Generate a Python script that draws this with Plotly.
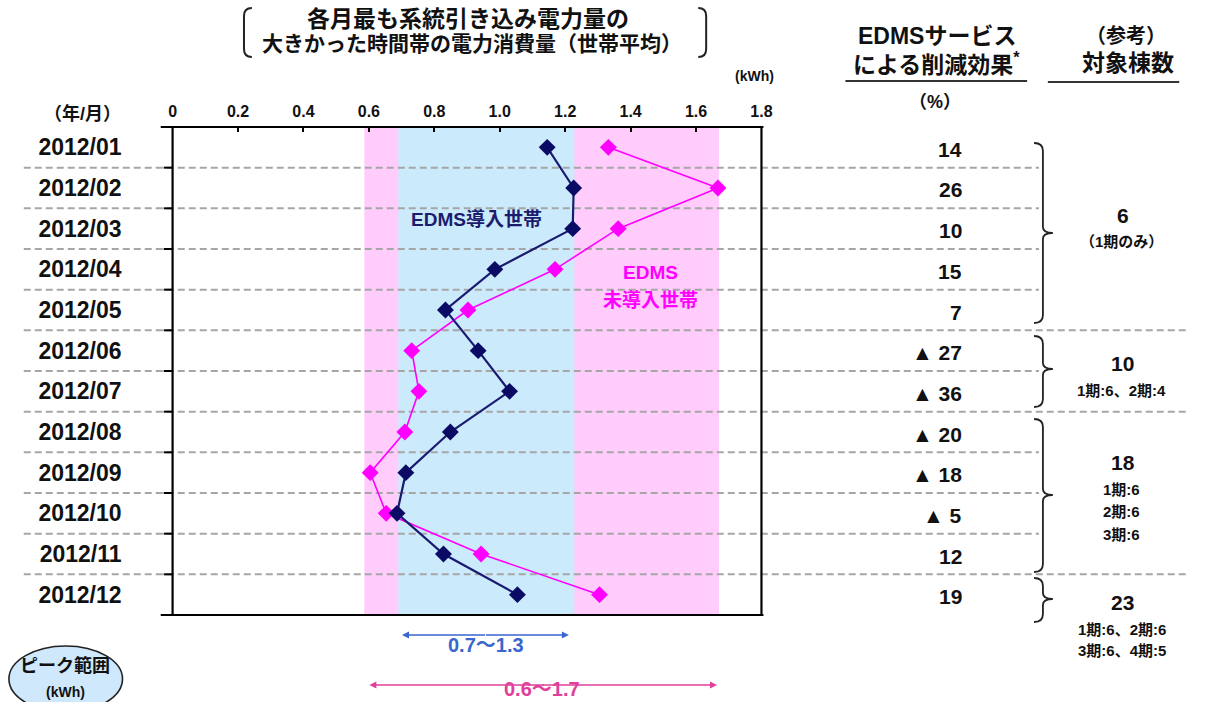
import plotly.graph_objects as go

# ---------------- data ----------------
months = ["2012/01", "2012/02", "2012/03", "2012/04", "2012/05", "2012/06",
          "2012/07", "2012/08", "2012/09", "2012/10", "2012/11", "2012/12"]
edms = [1.145, 1.226, 1.223, 0.985, 0.834, 0.934, 1.030, 0.849, 0.713, 0.686, 0.828, 1.054]
non_edms = [1.332, 1.667, 1.362, 1.169, 0.903, 0.731, 0.753, 0.710, 0.604, 0.653, 0.943, 1.305]
reduction = [14, 26, 10, 15, 7, -27, -36, -20, -18, -5, 12, 19]
x_ticks = [0, 0.2, 0.4, 0.6, 0.8, 1.0, 1.2, 1.4, 1.6, 1.8]
x_ticktext = ["0", "0.2", "0.4", "0.6", "0.8", "1.0", "1.2", "1.4", "1.6", "1.8"]
band_blue = [0.69, 1.228]
band_pink = [0.586, 1.67]
range_blue_label = "0.7〜1.3"
range_pink_label = "0.6〜1.7"
group_first = [0, 5, 7, 11]
group_last = [4, 6, 10, 11]
group_counts = ["6", "10", "18", "23"]
group_notes = [["（1期のみ）"], ["1期:6、2期:4"], ["1期:6", "2期:6", "3期:6"],
               ["1期:6、2期:6", "3期:6、4期:5"]]

W, H = 1207, 702
PL, PR, PT, PB = 170.7, 767.0, 127.0, 615.0


def px(x):
    return x / W


def py(y):
    return 1 - y / H


JP = "Liberation Sans, Noto Sans CJK JP"
NAVY = "#0b0b66"
MAG = "#ff00ff"

fig = go.Figure()
fig.add_trace(go.Scatter(x=non_edms, y=months, mode="lines+markers",
                         line=dict(color=MAG, width=1.6),
                         marker=dict(symbol="diamond", size=13, color=MAG),
                         cliponaxis=False, showlegend=False))
fig.add_trace(go.Scatter(x=edms, y=months, mode="lines+markers",
                         line=dict(color="#1a1a70", width=2.2),
                         marker=dict(symbol="diamond", size=13, color=NAVY),
                         cliponaxis=False, showlegend=False))

shapes = []
# bands
shapes.append(dict(type="rect", xref="x", yref="paper", x0=band_pink[0], x1=band_pink[1],
                   y0=py(PB), y1=py(PT), fillcolor="#ffccfb", line=dict(width=0), layer="below"))
shapes.append(dict(type="rect", xref="x", yref="paper", x0=band_blue[0], x1=band_blue[1],
                   y0=py(PB), y1=py(PT), fillcolor="#cbeafc", line=dict(width=0), layer="below"))
# dashed row separators
long_rows = set(group_last[:-1])
for i in range(len(months) - 1):
    xend = 1200 if i in long_rows else 1048
    shapes.append(dict(type="line", xref="paper", yref="y", x0=px(20), x1=px(xend),
                       y0=i + 0.5, y1=i + 0.5,
                       line=dict(color="#a6a6a6", width=2, dash="7px,4px"), layer="below"))
    # tick marks on the left axis
    shapes.append(dict(type="line", xref="paper", yref="y", x0=px(PL - 9), x1=px(PL),
                       y0=i + 0.5, y1=i + 0.5, line=dict(color="black", width=2)))
# frame
for (x0, y0, x1, y1) in [(PL - 12, PT, PR + 2, PT), (PL - 12, PB, PR + 2, PB),
                         (PL, PT, PL, PB), (PR, PT, PR, PB)]:
    shapes.append(dict(type="line", xref="paper", yref="paper", x0=px(x0), y0=py(y0),
                       x1=px(x1), y1=py(y1), line=dict(color="black", width=2.2)))


def bracket(x, yt, yb, d):
    return (f"M {px(x + d)},{py(yt)} Q {px(x)},{py(yt)} {px(x)},{py(yt + 8)} "
            f"L {px(x)},{py(yb - 8)} Q {px(x)},{py(yb)} {px(x + d)},{py(yb)}")


shapes.append(dict(type="path", xref="paper", yref="paper", path=bracket(243, 8, 57, 8),
                   line=dict(color="#222", width=2)))
shapes.append(dict(type="path", xref="paper", yref="paper", path=bracket(711, 8, 57, -8),
                   line=dict(color="#222", width=2)))


def brace(x0, yt, ym, yb):
    xv = x0 + 9
    xt = x0 + 19
    return (f"M {px(x0)},{py(yt)} Q {px(xv)},{py(yt)} {px(xv)},{py(yt + 8)} "
            f"L {px(xv)},{py(ym - 6)} Q {px(xv)},{py(ym)} {px(xt)},{py(ym)} "
            f"Q {px(xv)},{py(ym)} {px(xv)},{py(ym + 6)} "
            f"L {px(xv)},{py(yb - 8)} Q {px(xv)},{py(yb)} {px(x0)},{py(yb)}")


brace_y = [(143, 233, 323), (336, 369, 407), (419, 495, 572), (578, 599, 622)]
for (yt, ym, yb) in brace_y:
    shapes.append(dict(type="path", xref="paper", yref="paper", path=brace(1043, yt, ym, yb),
                       line=dict(color="#222", width=1.8)))

# underlines for headers
shapes.append(dict(type="line", xref="paper", yref="paper", x0=px(852), x1=px(1036),
                   y0=py(81), y1=py(81), line=dict(color="#333", width=2)))
shapes.append(dict(type="line", xref="paper", yref="paper", x0=px(1057), x1=px(1190),
                   y0=py(82), y1=py(82), line=dict(color="#333", width=2)))
# ellipse
shapes.append(dict(type="circle", xref="paper", yref="paper", x0=px(5), x1=px(120),
                   y0=py(646), y1=py(712), fillcolor="#cfe8fb", line=dict(color="#222", width=1.6)))

annotations = []


def ann(x, y, text, size, color="#111", xanchor="center", bold=True, family=JP, yref="paper", yshift=0):
    annotations.append(dict(x=px(x), y=(py(y) if yref == "paper" else y), xref="paper", yref=yref,
                            text=(f"<b>{text}</b>" if bold else text), showarrow=False,
                            xanchor=xanchor, yanchor="middle", yshift=yshift,
                            font=dict(size=size, color=color, family=family)))


# title
ann(470, 19, "各月最も系統引き込み電力量の", 23)
ann(474, 44, "大きかった時間帯の電力消費量（世帯平均）", 21)
ann(760, 76, "(kWh)", 14)
ann(79, 114, "（年/月）", 18)
# column headers
ann(945, 36, "EDMSサービス", 23)
ann(944, 63, "による削減効果<sup>*</sup>", 23)
ann(943, 102, "（%）", 18)
ann(1136, 36, "（参考）", 20)
ann(1138, 63, "対象棟数", 23)
# series labels
ann(478, 220, "EDMS導入世帯", 19, color="#1c1c6e")
ann(655, 272, "EDMS", 19, color=MAG)
ann(655, 300, "未導入世帯", 19, color=MAG)

# reduction column
for m, r in zip(months, reduction):
    txt = f"▲ {abs(r)}" if r < 0 else f"{r}"
    annotations.append(dict(x=px(972), y=m, xref="paper", yref="y", text=f"<b>{txt}</b>",
                            showarrow=False, xanchor="right", yanchor="middle", yshift=-2,
                            font=dict(size=21, color="#111", family=JP)))

# count column
count_y = [215, 363, 462, 602]
note_y = [[242], [390], [489, 511, 534], [629, 650]]
for c, cy, notes, nys in zip(group_counts, count_y, group_notes, note_y):
    ann(1133, cy, c, 21)
    for n, ny in zip(notes, nys):
        ann(1132, ny, n, 15)


# bottom range arrows
def darrow(x0, x1, y, color):
    xm = (x0 + x1) / 2
    for xe in (x0, x1):
        annotations.append(dict(x=px(xe), y=py(y), xref="paper", yref="paper",
                                ax=xm - xe, ay=0, axref="pixel", ayref="pixel",
                                text="", showarrow=True, arrowhead=2, arrowsize=1,
                                arrowwidth=1.4, arrowcolor=color))


darrow(403, 572, 635, "#3a66cf")
darrow(370, 722, 685, "#e0409a")
ann(488, 645, range_blue_label, 20, color="#3a66cf")
ann(545, 689, range_pink_label, 20, color="#e0409a")
ann(62, 665, "ピーク範囲", 18)
ann(62, 692, "(kWh)", 14)

fig.update_layout(
    width=W, height=H, margin=dict(l=0, r=0, t=0, b=0),
    paper_bgcolor="white", plot_bgcolor="rgba(0,0,0,0)",
    shapes=shapes, annotations=annotations,
    xaxis=dict(domain=[px(PL), px(PR)], range=[0, 1.8], side="top",
               tickvals=x_ticks, ticktext=x_ticktext, ticks="inside", ticklen=5,
               tickwidth=2, tickcolor="black", showgrid=False, zeroline=False,
               showline=False, ticklabelstandoff=6,
               tickfont=dict(size=16, color="#111", family="Liberation Sans", weight="bold")),
    yaxis=dict(domain=[py(PB), py(PT)], type="category", categoryorder="array",
               categoryarray=months, range=[11.5, -0.5], showgrid=False, zeroline=False,
               showline=False, ticks="", ticklabelstandoff=50,
               tickfont=dict(size=23, color="#111", family="Liberation Sans", weight="bold")),
)

fig.write_html("out.html")
